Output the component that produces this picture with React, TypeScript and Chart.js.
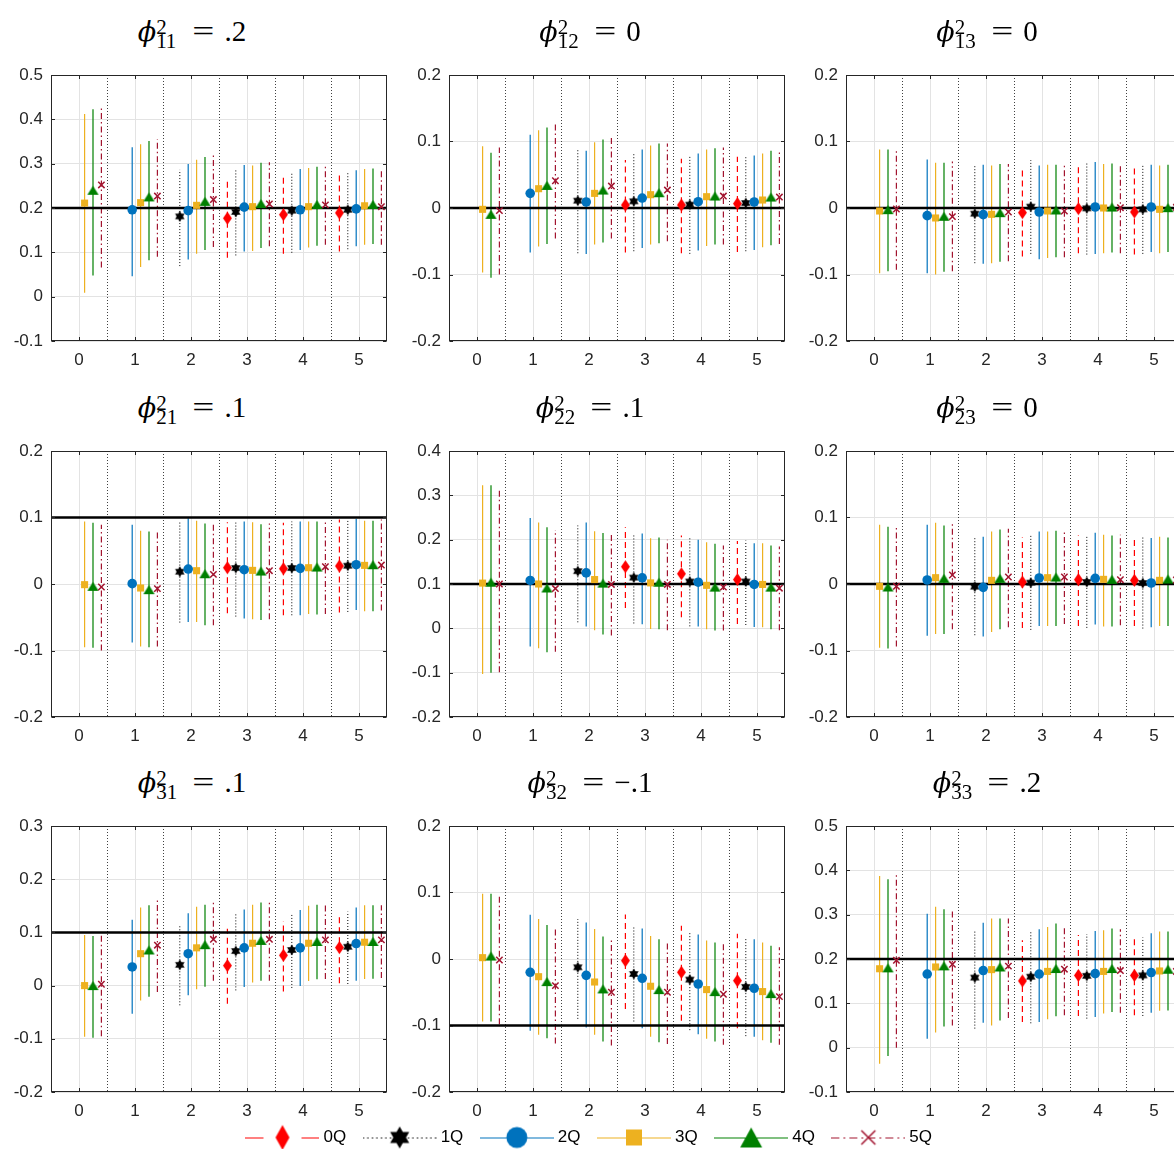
import React, { useEffect, useRef } from 'react';
import { Chart, registerables } from 'chart.js';

Chart.register(...registerables);
Chart.defaults.font.family = "'Liberation Sans', Arial, Helvetica, sans-serif";
Chart.defaults.color = '#262626';

// ---------------- series definitions ----------------
const seriesNames = ['0Q', '1Q', '2Q', '3Q', '4Q', '5Q'];
const seriesColors = ['#FF0000', '#000000', '#0072BD', '#EDB120', '#008000', '#A2142F'];
const seriesOffsets = [-0.35, -0.2, -0.05, 0.1, 0.25, 0.4];
const seriesDashes = [[6, 4], [1, 2], [], [], [], [6, 3, 1.5, 3]];
const groups = [0, 1, 2, 3, 4, 5];
const xTicks = [0, 1, 2, 3, 4, 5];
const separators = [0.5, 1.5, 2.5, 3.5, 4.5];
const N = null;

// ---------------- panel data: rows = series 0Q..5Q, cols = horizon 0..5 ----------------
const est11 = [
  [N, N, N, 0.177, 0.185, 0.189],
  [N, N, 0.181, 0.191, 0.194, 0.196],
  [N, 0.196, 0.194, 0.202, 0.196, 0.198],
  [0.211, 0.212, 0.206, 0.203, 0.203, 0.205],
  [0.240, 0.225, 0.215, 0.210, 0.208, 0.208],
  [0.252, 0.227, 0.219, 0.209, 0.207, 0.203],
];
const lo11 = [
  [N, N, N, 0.088, 0.097, 0.102],
  [N, N, 0.069, 0.093, 0.099, 0.107],
  [N, 0.046, 0.084, 0.102, 0.105, 0.114],
  [0.009, 0.067, 0.097, 0.103, 0.111, 0.117],
  [0.048, 0.082, 0.105, 0.110, 0.115, 0.119],
  [0.066, 0.090, 0.112, 0.114, 0.117, 0.117],
];
const hi11 = [
  [N, N, N, 0.265, 0.275, 0.277],
  [N, N, 0.286, 0.285, 0.279, 0.279],
  [N, 0.337, 0.299, 0.297, 0.288, 0.285],
  [0.412, 0.344, 0.309, 0.296, 0.290, 0.288],
  [0.423, 0.351, 0.315, 0.302, 0.293, 0.289],
  [0.427, 0.355, 0.320, 0.303, 0.294, 0.288],
];

const est12 = [
  [N, N, N, 0.0045, 0.0045, 0.0065],
  [N, N, 0.011, 0.010, 0.005, 0.0075],
  [N, 0.022, 0.009, 0.015, 0.0095, 0.009],
  [-0.002, 0.029, 0.022, 0.020, 0.017, 0.012],
  [-0.0095, 0.034, 0.027, 0.023, 0.018, 0.0165],
  [-0.004, 0.041, 0.033, 0.027, 0.018, 0.0165],
];
const lo12 = [
  [N, N, N, -0.067, -0.068, -0.066],
  [N, N, -0.068, -0.065, -0.069, -0.065],
  [N, -0.067, -0.069, -0.060, -0.064, -0.063],
  [-0.097, -0.058, -0.055, -0.055, -0.057, -0.059],
  [-0.105, -0.054, -0.052, -0.053, -0.055, -0.056],
  [-0.100, -0.046, -0.046, -0.050, -0.055, -0.054],
];
const hi12 = [
  [N, N, N, 0.072, 0.074, 0.077],
  [N, N, 0.088, 0.082, 0.078, 0.077],
  [N, 0.110, 0.086, 0.088, 0.082, 0.079],
  [0.093, 0.117, 0.099, 0.094, 0.088, 0.082],
  [0.083, 0.121, 0.103, 0.097, 0.090, 0.086],
  [0.091, 0.127, 0.109, 0.097, 0.091, 0.086],
];

const est13 = [
  [N, N, N, -0.007, -0.001, -0.006],
  [N, N, -0.0085, 0.002, -0.0005, -0.002],
  [N, -0.0115, -0.010, -0.006, 0.0015, 0.0015],
  [-0.0045, -0.015, -0.0095, -0.0045, 0.0, -0.002],
  [-0.0025, -0.0125, -0.007, -0.003, 0.0015, 0.0005],
  [-0.0015, -0.013, -0.006, -0.0045, 0.0005, 0.001],
];
const lo13 = [
  [N, N, N, -0.073, -0.068, -0.070],
  [N, N, -0.083, -0.069, -0.070, -0.069],
  [N, -0.098, -0.084, -0.077, -0.069, -0.066],
  [-0.098, -0.100, -0.083, -0.075, -0.068, -0.068],
  [-0.095, -0.096, -0.081, -0.074, -0.067, -0.066],
  [-0.093, -0.095, -0.080, -0.074, -0.068, -0.066],
];
const hi13 = [
  [N, N, N, 0.062, 0.066, 0.062],
  [N, N, 0.064, 0.072, 0.067, 0.064],
  [N, 0.073, 0.065, 0.064, 0.069, 0.065],
  [0.088, 0.068, 0.064, 0.065, 0.066, 0.064],
  [0.088, 0.068, 0.066, 0.065, 0.067, 0.065],
  [0.086, 0.070, 0.066, 0.064, 0.067, 0.064],
];

const est21 = [
  [N, N, N, 0.0245, 0.023, 0.027],
  [N, N, 0.0185, 0.024, 0.024, 0.0275],
  [N, 0.0005, 0.0225, 0.0215, 0.0235, 0.029],
  [-0.001, -0.006, 0.020, 0.0205, 0.0245, 0.028],
  [-0.0035, -0.0085, 0.0155, 0.0195, 0.0255, 0.029],
  [-0.0045, -0.007, 0.0145, 0.020, 0.026, 0.0285],
];
const lo21 = [
  [N, N, N, -0.044, -0.047, -0.043],
  [N, N, -0.058, -0.049, -0.047, -0.042],
  [N, -0.088, -0.057, -0.052, -0.047, -0.039],
  [-0.095, -0.094, -0.057, -0.053, -0.045, -0.041],
  [-0.096, -0.095, -0.062, -0.054, -0.046, -0.041],
  [-0.100, -0.094, -0.062, -0.053, -0.045, -0.040],
];
const hi21 = [
  [N, N, N, 0.093, 0.092, 0.097],
  [N, N, 0.093, 0.093, 0.094, 0.096],
  [N, 0.089, 0.099, 0.094, 0.094, 0.098],
  [0.094, 0.080, 0.095, 0.093, 0.094, 0.095],
  [0.092, 0.079, 0.091, 0.090, 0.094, 0.095],
  [0.089, 0.078, 0.091, 0.091, 0.095, 0.097],
];

const est22 = [
  [N, N, N, 0.139, 0.123, 0.110],
  [N, N, 0.129, 0.1145, 0.1055, 0.1055],
  [N, 0.108, 0.125, 0.114, 0.104, 0.099],
  [0.102, 0.100, 0.110, 0.1025, 0.097, 0.099],
  [0.104, 0.091, 0.102, 0.104, 0.093, 0.093],
  [0.100, 0.0897, 0.099, 0.099, 0.093, 0.0905],
];
const lo22 = [
  [N, N, N, 0.046, 0.025, 0.010],
  [N, N, 0.0136, 0.011, 0.0045, 0.0075],
  [N, -0.041, 0.004, 0.009, 0.004, 0.003],
  [-0.103, -0.045, -0.0045, -0.0015, -0.002, 0.0023],
  [-0.100, -0.054, -0.014, -0.002, -0.005, -0.002],
  [-0.099, -0.053, -0.016, -0.0045, -0.005, -0.0045],
];
const hi22 = [
  [N, N, N, 0.228, 0.2095, 0.197],
  [N, N, 0.232, 0.2125, 0.203, 0.198],
  [N, 0.249, 0.239, 0.214, 0.200, 0.192],
  [0.323, 0.239, 0.219, 0.203, 0.194, 0.192],
  [0.323, 0.228, 0.215, 0.205, 0.191, 0.187],
  [0.317, 0.222, 0.211, 0.200, 0.187, 0.1846],
];

const est23 = [
  [N, N, N, 0.003, 0.0065, 0.0055],
  [N, N, -0.004, 0.002, 0.003, 0.0015],
  [N, 0.006, -0.005, 0.009, 0.0085, 0.0015],
  [-0.0035, 0.0095, 0.0055, 0.0095, 0.007, 0.0055],
  [-0.0045, 0.0085, 0.0085, 0.0105, 0.007, 0.0075],
  [-0.0035, 0.0135, 0.0105, 0.0105, 0.0065, 0.006],
];
const lo23 = [
  [N, N, N, -0.066, -0.063, -0.063],
  [N, N, -0.077, -0.069, -0.066, -0.067],
  [N, -0.078, -0.079, -0.063, -0.061, -0.065],
  [-0.096, -0.075, -0.072, -0.063, -0.064, -0.063],
  [-0.097, -0.075, -0.068, -0.063, -0.064, -0.063],
  [-0.094, -0.068, -0.065, -0.060, -0.062, -0.062],
];
const hi23 = [
  [N, N, N, 0.070, 0.073, 0.071],
  [N, N, 0.069, 0.074, 0.071, 0.070],
  [N, 0.089, 0.071, 0.079, 0.077, 0.069],
  [0.089, 0.092, 0.079, 0.079, 0.074, 0.071],
  [0.086, 0.088, 0.082, 0.080, 0.073, 0.070],
  [0.087, 0.092, 0.083, 0.081, 0.074, 0.070],
];

const est31 = [
  [N, N, N, 0.0376, 0.057, 0.0714],
  [N, N, 0.039, 0.065, 0.067, 0.073],
  [N, 0.035, 0.060, 0.071, 0.071, 0.079],
  [0.0, 0.060, 0.071, 0.0796, 0.0796, 0.0815],
  [0.0, 0.067, 0.077, 0.085, 0.083, 0.083],
  [0.0025, 0.076, 0.087, 0.087, 0.086, 0.086],
];
const lo31 = [
  [N, N, N, -0.034, -0.011, 0.0044],
  [N, N, -0.037, -0.009, -0.0044, 0.003],
  [N, -0.053, -0.018, -0.0025, -0.0006, 0.009],
  [-0.096, -0.028, -0.007, 0.0056, 0.0088, 0.0125],
  [-0.098, -0.021, -0.002, 0.009, 0.012, 0.013],
  [-0.095, -0.012, 0.009, 0.009, 0.0125, 0.0144],
];
const hi31 = [
  [N, N, N, 0.107, 0.121, 0.135],
  [N, N, 0.112, 0.134, 0.135, 0.139],
  [N, 0.124, 0.136, 0.143, 0.142, 0.147],
  [0.095, 0.147, 0.148, 0.152, 0.150, 0.151],
  [0.093, 0.151, 0.152, 0.156, 0.152, 0.151],
  [0.098, 0.162, 0.160, 0.160, 0.155, 0.151],
];

const est32 = [
  [N, N, N, -0.0025, -0.020, -0.0326],
  [N, N, -0.0125, -0.0225, -0.031, -0.042],
  [N, -0.020, -0.0246, -0.029, -0.0376, -0.044],
  [0.002, -0.0266, -0.0346, -0.041, -0.046, -0.049],
  [0.0045, -0.034, -0.045, -0.046, -0.049, -0.052],
  [-0.0015, -0.040, -0.050, -0.050, -0.053, -0.0566],
];
const lo32 = [
  [N, N, N, -0.075, -0.093, -0.104],
  [N, N, -0.090, -0.094, -0.107, -0.116],
  [N, -0.108, -0.103, -0.104, -0.113, -0.117],
  [-0.094, -0.114, -0.114, -0.117, -0.120, -0.122],
  [-0.094, -0.119, -0.124, -0.125, -0.124, -0.126],
  [-0.098, -0.127, -0.130, -0.128, -0.129, -0.129],
];
const hi32 = [
  [N, N, N, 0.067, 0.050, 0.038],
  [N, N, 0.060, 0.048, 0.041, 0.031],
  [N, 0.0667, 0.055, 0.046, 0.037, 0.0296],
  [0.098, 0.060, 0.045, 0.0346, 0.028, 0.025],
  [0.098, 0.051, 0.034, 0.0296, 0.025, 0.020],
  [0.095, 0.047, 0.0296, 0.026, 0.0226, 0.0175],
];

const est33 = [
  [N, N, N, 0.1506, 0.163, 0.163],
  [N, N, 0.158, 0.160, 0.162, 0.163],
  [N, 0.166, 0.174, 0.166, 0.167, 0.1695],
  [0.178, 0.182, 0.176, 0.172, 0.172, 0.173],
  [0.180, 0.1845, 0.182, 0.1785, 0.1785, 0.177],
  [0.197, 0.188, 0.184, 0.177, 0.174, 0.172],
];
const lo33 = [
  [N, N, N, 0.058, 0.0715, 0.073],
  [N, N, 0.043, 0.055, 0.0655, 0.0715],
  [N, 0.020, 0.056, 0.058, 0.069, 0.079],
  [-0.036, 0.034, 0.050, 0.064, 0.077, 0.083],
  [-0.019, 0.048, 0.061, 0.071, 0.0806, 0.084],
  [0.0, 0.050, 0.067, 0.073, 0.079, 0.085],
];
const hi33 = [
  [N, N, N, 0.2425, 0.254, 0.251],
  [N, N, 0.263, 0.261, 0.256, 0.2485],
  [N, 0.302, 0.282, 0.267, 0.263, 0.258],
  [0.387, 0.318, 0.2914, 0.272, 0.265, 0.262],
  [0.380, 0.312, 0.2914, 0.280, 0.269, 0.262],
  [0.389, 0.3125, 0.2914, 0.276, 0.267, 0.260],
];

// ---------------- per-panel metadata ----------------
const panelIds = ['11', '12', '13', '21', '22', '23', '31', '32', '33'];
const titleValues = ['.2', '0', '0', '.1', '.1', '0', '.1', '\u2212.1', '.2'];
const trueValues = [0.2, 0, 0, 0.1, 0.1, 0, 0.1, -0.1, 0.2];
const yTicks11 = [-0.1, 0, 0.1, 0.2, 0.3, 0.4, 0.5];
const yTicks12 = [-0.2, -0.1, 0, 0.1, 0.2];
const yTicks13 = [-0.2, -0.1, 0, 0.1, 0.2];
const yTicks21 = [-0.2, -0.1, 0, 0.1, 0.2];
const yTicks22 = [-0.2, -0.1, 0, 0.1, 0.2, 0.3, 0.4];
const yTicks23 = [-0.2, -0.1, 0, 0.1, 0.2];
const yTicks31 = [-0.2, -0.1, 0, 0.1, 0.2, 0.3];
const yTicks32 = [-0.2, -0.1, 0, 0.1, 0.2];
const yTicks33 = [-0.1, 0, 0.1, 0.2, 0.3, 0.4, 0.5];

const estimates = [est11, est12, est13, est21, est22, est23, est31, est32, est33];
const lowers = [lo11, lo12, lo13, lo21, lo22, lo23, lo31, lo32, lo33];
const uppers = [hi11, hi12, hi13, hi21, hi22, hi23, hi31, hi32, hi33];
const yTickSets = [yTicks11, yTicks12, yTicks13, yTicks21, yTicks22, yTicks23, yTicks31, yTicks32, yTicks33];

// ---------------- layout ----------------
const colLefts = [51, 449, 846];
const rowTops = [75, 451, 826];
const plotW = 336;
const plotH = 266;
const padL = 55;
const padT = 22;
const padR = 12;
const padB = 40;

// ---------------- marker images ----------------
function mkCanvas(w: number, h: number, draw: (ctx: CanvasRenderingContext2D) => void) {
  const c = document.createElement('canvas');
  c.width = w;
  c.height = h;
  const ctx = c.getContext('2d') as CanvasRenderingContext2D;
  draw(ctx);
  return c;
}
function pathDiamond(ctx: any, cx: number, cy: number, hw: number, hh: number) {
  ctx.beginPath();
  ctx.moveTo(cx, cy - hh);
  ctx.lineTo(cx + hw, cy);
  ctx.lineTo(cx, cy + hh);
  ctx.lineTo(cx - hw, cy);
  ctx.closePath();
}
function pathHexagram(ctx: any, cx: number, cy: number, r: number) {
  ctx.beginPath();
  for (let t = 0; t < 2; t++) {
    for (let i = 0; i < 3; i++) {
      const a = -Math.PI / 2 + t * Math.PI + (i * 2 * Math.PI) / 3;
      const px = cx + r * Math.cos(a);
      const py = cy + r * Math.sin(a);
      if (i === 0) ctx.moveTo(px, py);
      else ctx.lineTo(px, py);
    }
    ctx.closePath();
  }
}
function pathTriangle(ctx: any, cx: number, cy: number, hw: number, hh: number) {
  ctx.beginPath();
  ctx.moveTo(cx, cy - hh);
  ctx.lineTo(cx + hw, cy + hh);
  ctx.lineTo(cx - hw, cy + hh);
  ctx.closePath();
}

let markerCache: any[] | null = null;
function getMarkers() {
  if (markerCache) return markerCache;
  const diamond = mkCanvas(11, 15, (ctx) => {
    ctx.fillStyle = seriesColors[0];
    pathDiamond(ctx, 5.5, 7.5, 4.5, 6.5);
    ctx.fill();
  });
  const star = mkCanvas(12, 12, (ctx) => {
    ctx.fillStyle = seriesColors[1];
    pathHexagram(ctx, 6, 6, 5.5);
    ctx.fill();
  });
  const tri = mkCanvas(13, 11, (ctx) => {
    ctx.fillStyle = seriesColors[4];
    pathTriangle(ctx, 6.5, 5.5, 5.6, 4.4);
    ctx.fill();
  });
  markerCache = [
    { pointStyle: diamond, pointRadius: 5 },
    { pointStyle: star, pointRadius: 5 },
    { pointStyle: 'circle', pointRadius: 4.8, pointBackgroundColor: seriesColors[2], pointBorderColor: seriesColors[2], pointBorderWidth: 0 },
    { pointStyle: 'rect', pointRadius: 5, pointBackgroundColor: seriesColors[3], pointBorderColor: seriesColors[3], pointBorderWidth: 0 },
    { pointStyle: tri, pointRadius: 5 },
    { pointStyle: 'crossRot', pointRadius: 4.5, pointBackgroundColor: seriesColors[5], pointBorderColor: seriesColors[5], pointBorderWidth: 1.5 },
  ];
  return markerCache;
}

function getLegendIcons() {
  const W = 74, H = 30, cx = 37, cy = 15;
  return seriesNames.map((_, s) =>
    mkCanvas(W, H, (ctx) => {
      ctx.strokeStyle = seriesColors[s];
      ctx.lineWidth = 1;
      if (s === 0) {
        ctx.beginPath();
        ctx.moveTo(0, cy + 0.5); ctx.lineTo(18, cy + 0.5);
        ctx.moveTo(56, cy + 0.5); ctx.lineTo(74, cy + 0.5);
        ctx.stroke();
      } else {
        ctx.setLineDash(s === 1 ? [1.5, 3] : s === 5 ? [8, 4, 2, 4] : []);
        ctx.beginPath();
        ctx.moveTo(0, cy + 0.5);
        ctx.lineTo(W, cy + 0.5);
        ctx.stroke();
        ctx.setLineDash([]);
      }
      ctx.fillStyle = seriesColors[s];
      if (s === 0) { pathDiamond(ctx, cx, cy, 7, 12.5); ctx.fill(); }
      if (s === 1) { pathHexagram(ctx, cx, cy, 11); ctx.fill(); }
      if (s === 2) { ctx.beginPath(); ctx.arc(cx, cy, 10.5, 0, Math.PI * 2); ctx.fill(); }
      if (s === 3) { ctx.fillRect(cx - 8, cy - 8, 16, 16); }
      if (s === 4) { pathTriangle(ctx, cx, cy, 11, 10); ctx.fill(); }
      if (s === 5) {
        ctx.lineWidth = 1.5;
        ctx.beginPath();
        ctx.moveTo(cx - 7, cy - 7); ctx.lineTo(cx + 7, cy + 7);
        ctx.moveTo(cx + 7, cy - 7); ctx.lineTo(cx - 7, cy + 7);
        ctx.stroke();
      }
    })
  );
}

// ---------------- decoration plugin (separators, box, inward ticks) ----------------
const decorPlugin = {
  id: 'decor',
  beforeDatasetsDraw(chart: any) {
    const { ctx, chartArea: a, scales } = chart;
    const x = scales.x;
    ctx.save();
    ctx.strokeStyle = '#404040';
    ctx.lineWidth = 1;
    ctx.setLineDash([1, 2]);
    separators.forEach((v) => {
      const px = Math.round(x.getPixelForValue(v)) + 0.5;
      ctx.beginPath();
      ctx.moveTo(px, a.top);
      ctx.lineTo(px, a.bottom);
      ctx.stroke();
    });
    ctx.restore();
  },
  afterDraw(chart: any) {
    const { ctx, chartArea: a, scales } = chart;
    const L = Math.round(a.left) + 0.5;
    const R = Math.round(a.right) - 0.5;
    const T = Math.round(a.top) + 0.5;
    const B = Math.round(a.bottom) - 0.5;
    ctx.save();
    ctx.strokeStyle = '#262626';
    ctx.lineWidth = 1;
    ctx.setLineDash([]);
    ctx.strokeRect(L, T, R - L, B - T);
    ctx.beginPath();
    scales.x.ticks.forEach((t: any) => {
      const px = Math.round(scales.x.getPixelForValue(t.value)) + 0.5;
      ctx.moveTo(px, B); ctx.lineTo(px, B - 3.5);
      ctx.moveTo(px, T); ctx.lineTo(px, T + 3.5);
    });
    scales.y.ticks.forEach((t: any) => {
      const py = Math.round(scales.y.getPixelForValue(t.value)) + 0.5;
      ctx.moveTo(L, py); ctx.lineTo(L + 3.5, py);
      ctx.moveTo(R, py); ctx.lineTo(R - 3.5, py);
    });
    ctx.stroke();
    ctx.restore();
  },
};

function fmtY(v: number) {
  if (Math.abs(v) < 1e-9) return '0';
  return v.toFixed(1);
}

function Panel({ idx }: { idx: number }) {
  const ref = useRef<HTMLCanvasElement>(null);
  const row = Math.floor(idx / 3);
  const col = idx % 3;
  const cw = padL + plotW + padR;
  const ch = padT + plotH + padB;
  const left = colLefts[col] - padL;
  const top = rowTops[row] - padT;

  useEffect(() => {
    const est = estimates[idx];
    const lo = lowers[idx];
    const hi = uppers[idx];
    const yT = yTickSets[idx];
    const markers = getMarkers();
    const datasets: any[] = [];
    for (let s = 0; s < seriesNames.length; s++) {
      const pts: any[] = [];
      const bars: any[] = [];
      groups.forEach((g) => {
        const v = est[s][g];
        if (v === null) return;
        const x = g + seriesOffsets[s];
        pts.push({ x, y: v });
        bars.push({ x, y: lo[s][g] }, { x, y: hi[s][g] }, { x, y: null });
      });
      datasets.push({
        type: 'line',
        label: seriesNames[s] + ' interval',
        data: bars,
        borderColor: seriesColors[s],
        borderWidth: s === 1 ? 1 : 1.2,
        borderDash: seriesDashes[s],
        pointRadius: 0,
        spanGaps: false,
        fill: false,
        tension: 0,
        order: 40 - s,
      });
      datasets.push({
        type: 'scatter',
        label: seriesNames[s],
        data: pts,
        ...markers[s],
        order: 10 - s,
      });
    }
    datasets.push({
      type: 'line',
      label: 'true value',
      data: [
        { x: -0.5, y: trueValues[idx] },
        { x: 5.5, y: trueValues[idx] },
      ],
      borderColor: '#000000',
      borderWidth: 2.5,
      pointRadius: 0,
      fill: false,
      order: 20,
    });

    const gridCfg = { color: '#e3e3e3', lineWidth: 1, drawTicks: false };
    const tickFont = { family: "'Liberation Sans', Arial, sans-serif", size: 17 };
    const chart = new Chart(ref.current as HTMLCanvasElement, {
      type: 'scatter',
      data: { datasets },
      options: {
        animation: false,
        responsive: false,
        events: [],
        layout: { padding: { left: 0, top: padT, right: padR, bottom: 0 }, autoPadding: false },
        plugins: { legend: { display: false }, tooltip: { enabled: false }, title: { display: false } },
        scales: {
          x: {
            type: 'linear',
            min: -0.5,
            max: 5.5,
            afterBuildTicks: (s: any) => {
              s.ticks = xTicks.map((v) => ({ value: v }));
            },
            afterFit: (s: any) => {
              s.height = padB;
            },
            grid: gridCfg,
            border: { display: false },
            ticks: {
              padding: 9,
              color: '#262626',
              font: tickFont,
              autoSkip: false,
              maxRotation: 0,
              callback: (v: any) => String(v),
            },
          },
          y: {
            type: 'linear',
            min: yT[0],
            max: yT[yT.length - 1],
            afterBuildTicks: (s: any) => {
              s.ticks = yT.map((v) => ({ value: v }));
            },
            afterFit: (s: any) => {
              s.width = padL;
            },
            grid: gridCfg,
            border: { display: false },
            ticks: {
              padding: 8,
              color: '#262626',
              font: tickFont,
              autoSkip: false,
              callback: (v: any) => fmtY(Number(v)),
            },
          },
        },
      } as any,
      plugins: [decorPlugin],
    } as any);
    return () => chart.destroy();
  }, [idx]);

  return (
    <canvas
      ref={ref}
      width={cw}
      height={ch}
      style={{ position: 'absolute', left, top, width: cw, height: ch }}
    />
  );
}

function Title({ idx }: { idx: number }) {
  const row = Math.floor(idx / 3);
  const col = idx % 3;
  const cx = colLefts[col] + 141;
  const baseline = rowTops[row] - 34;
  const F = 29;
  const f = 21;
  return (
    <div
      style={{
        position: 'absolute',
        left: cx - 150,
        top: baseline - 27.8,
        width: 300,
        textAlign: 'center',
        whiteSpace: 'nowrap',
        fontFamily: "'Liberation Serif', 'DejaVu Serif', serif",
        fontSize: F,
        lineHeight: '36px',
        color: '#000',
      }}
    >
      <span style={{ fontFamily: "'DejaVu Serif', serif", fontStyle: 'italic', fontSize: 27 }}>{'\u03D5'}</span>
      <span style={{ display: 'inline-block', position: 'relative', width: 23, height: 26 }}>
        <span style={{ position: 'absolute', left: 0, top: 1.4, fontSize: f, lineHeight: f + 'px' }}>2</span>
        <span style={{ position: 'absolute', left: 0, top: 15.6, fontSize: f, lineHeight: f + 'px' }}>{panelIds[idx]}</span>
      </span>
      <span style={{ display: 'inline-block', transform: 'scaleX(1.35)', marginLeft: 16, marginRight: 13 }}>=</span>
      <span>{titleValues[idx]}</span>
    </div>
  );
}

function LegendBar() {
  const ref = useRef<HTMLCanvasElement>(null);
  useEffect(() => {
    const icons = getLegendIcons();
    const chart = new Chart(ref.current as HTMLCanvasElement, {
      type: 'scatter',
      data: { datasets: seriesNames.map((n) => ({ label: n, data: [] })) },
      options: {
        animation: false,
        responsive: false,
        events: [],
        layout: { padding: 0 },
        scales: { x: { display: false }, y: { display: false } },
        plugins: {
          tooltip: { enabled: false },
          legend: {
            display: true,
            position: 'top',
            align: 'center',
            labels: {
              usePointStyle: true,
              pointStyleWidth: 65,
              padding: 21,
              color: '#000',
              font: { family: "'Liberation Sans', Arial, sans-serif", size: 17 },
              generateLabels: () =>
                seriesNames.map((n, i) => ({
                  text: n,
                  pointStyle: icons[i],
                  fillStyle: 'rgba(0,0,0,0)',
                  strokeStyle: 'rgba(0,0,0,0)',
                  fontColor: '#000',
                  lineWidth: 0,
                  hidden: false,
                  datasetIndex: i,
                })),
            },
          },
        },
      } as any,
    } as any);
    return () => chart.destroy();
  }, []);
  return (
    <canvas
      ref={ref}
      width={1174}
      height={100}
      style={{ position: 'absolute', left: 4, top: 1108, width: 1174, height: 100 }}
    />
  );
}

export default function App() {
  const idxs = [0, 1, 2, 3, 4, 5, 6, 7, 8];
  return (
    <div
      style={{
        position: 'absolute',
        left: 0,
        top: 0,
        width: 1174,
        height: 1149,
        overflow: 'hidden',
        background: '#ffffff',
      }}
    >
      {idxs.map((i) => (
        <Panel key={'p' + i} idx={i} />
      ))}
      {idxs.map((i) => (
        <Title key={'t' + i} idx={i} />
      ))}
      <LegendBar />
    </div>
  );
}
